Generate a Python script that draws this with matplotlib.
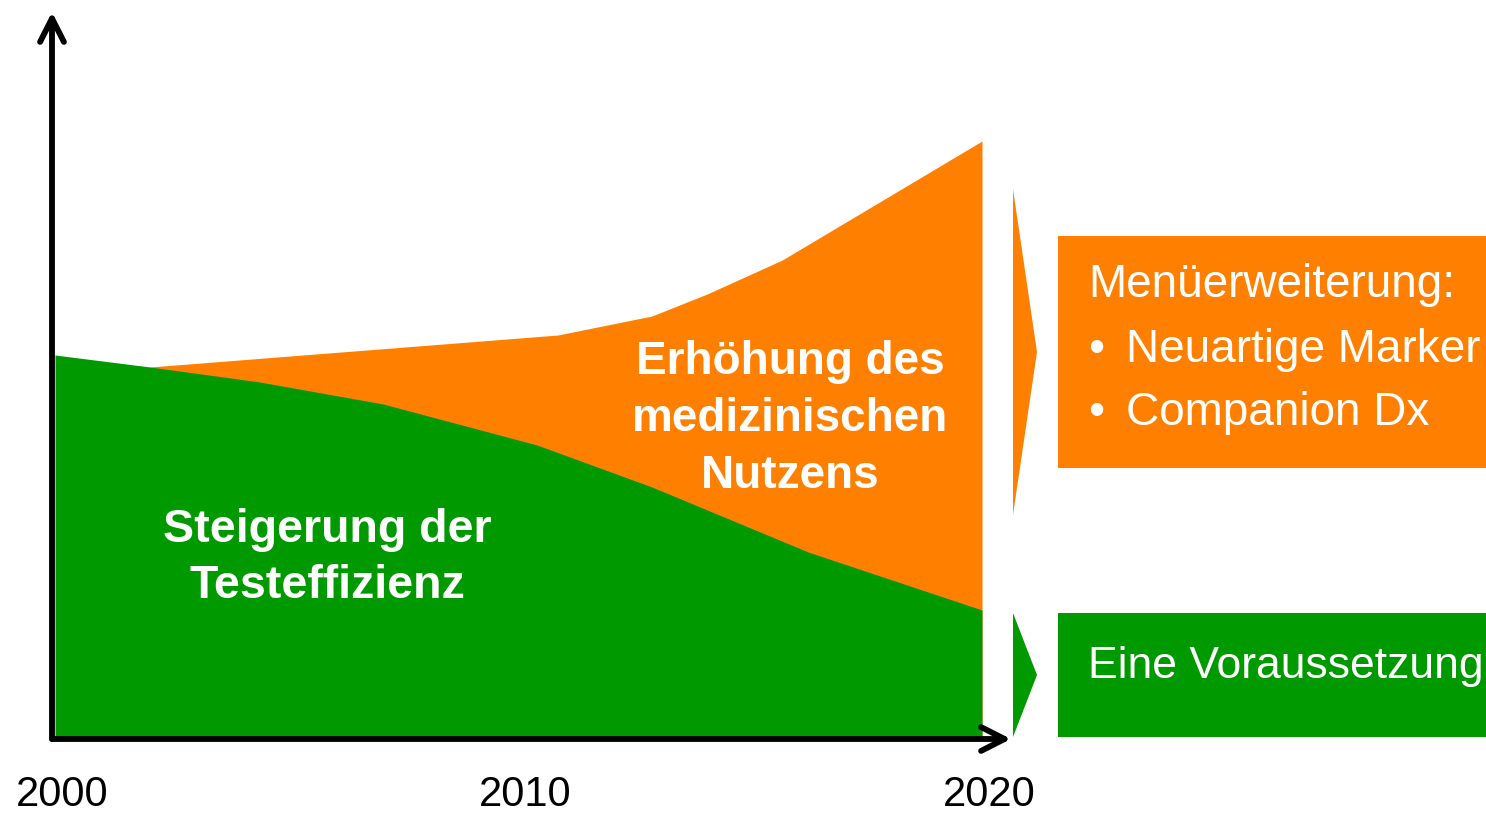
import matplotlib
matplotlib.use("Agg")
import matplotlib.pyplot as plt
from matplotlib.patches import Rectangle, Polygon
import matplotlib.transforms as mtransforms

# data (years, arbitrary units)
green_years = [2000.0, 2002.05, 2004.42, 2007.08, 2010.40, 2012.88, 2016.25, 2020.0]
green_vals = [95.5, 92.5, 88.75, 83.25, 73.0, 62.5, 46.25, 31.75]
orange_years = [2002.05, 2010.85, 2012.88, 2014.07, 2015.69, 2020.0]
orange_vals = [92.5, 100.5, 105.25, 110.75, 119.25, 149.0]
tick_years = [2000, 2010, 2020]
tick_labels = ["2000", "2010", "2020"]

GREEN = "#009900"
ORANGE = "#FF8000"
W, H = 1486, 814

plt.rcParams['font.family'] = ['Liberation Sans', 'DejaVu Sans']

fig = plt.figure(figsize=(W / 100, H / 100), dpi=100)
ax = fig.add_axes([0, 0, 1, 1])
ax.set_xlim(1998.813, 2030.874)
ax.set_ylim(-19.25, 184.25)
ax.axis('off')

# areas: orange first, green on top of it
ax.fill_between(orange_years, 0, orange_vals, color=ORANGE, lw=0, zorder=1)
ax.fill_between(green_years, 0, green_vals, color=GREEN, lw=0, zorder=2)


def fx(px):
    return px / W


def fy(py):
    return 1 - py / H


# axis arrows
arrow = dict(arrowstyle='->,head_length=0.65,head_width=0.33', lw=4.2,
             color='black', capstyle='round', joinstyle='round',
             shrinkA=0, shrinkB=0, mutation_scale=26)
ax.annotate('', xy=(fx(52), fy(12)), xytext=(fx(52), fy(739)),
            xycoords='figure fraction', textcoords='figure fraction',
            arrowprops=arrow, zorder=5)
ax.annotate('', xy=(fx(1011), fy(739)), xytext=(fx(52), fy(739)),
            xycoords='figure fraction', textcoords='figure fraction',
            arrowprops=arrow, zorder=5)

# year labels
lab_tr = mtransforms.offset_copy(ax.get_xaxis_transform(), fig=fig, x=7, y=0, units='dots')
for yr, lab in zip(tick_years, tick_labels):
    ax.text(yr, 1 - 806 / H, lab, transform=lab_tr, ha='center', va='baseline',
            fontsize=30, color='black')

# labels in the areas
for txt, py in [("Erhöhung des", 374), ("medizinischen", 431), ("Nutzens", 488)]:
    fig.text(fx(790), fy(py), txt, ha='center', va='baseline', fontsize=33,
             fontweight='bold', color='white', zorder=6)
for txt, py in [("Steigerung der", 542), ("Testeffizienz", 598)]:
    fig.text(fx(327), fy(py), txt, ha='center', va='baseline', fontsize=33.5,
             fontweight='bold', color='white', zorder=6)

# right chevrons and boxes
tri_o = Polygon([(fx(1013), fy(189)), (fx(1037), fy(352)), (fx(1013), fy(515))],
                closed=True, transform=fig.transFigure, color=ORANGE, lw=0)
tri_g = Polygon([(fx(1013), fy(613)), (fx(1037), fy(675)), (fx(1013), fy(737))],
                closed=True, transform=fig.transFigure, color=GREEN, lw=0)
box_o = Rectangle((fx(1058), fy(468)), fx(W - 1058), (468 - 236) / H,
                  transform=fig.transFigure, color=ORANGE, lw=0)
box_g = Rectangle((fx(1058), fy(737)), fx(W - 1058), (737 - 613) / H,
                  transform=fig.transFigure, color=GREEN, lw=0)
for p in (tri_o, tri_g, box_o, box_g):
    fig.patches.append(p)

fig.text(fx(1088), fy(297), "Menüerweiterung:", ha='left', va='baseline',
         fontsize=33, color='white')
fig.text(fx(1096), fy(362), "•", ha='center', va='baseline', fontsize=33, color='white')
fig.text(fx(1126), fy(362), "Neuartige Marker", ha='left', va='baseline',
         fontsize=33, color='white')
fig.text(fx(1096), fy(425), "•", ha='center', va='baseline', fontsize=33, color='white')
fig.text(fx(1126), fy(425), "Companion Dx", ha='left', va='baseline',
         fontsize=33, color='white')
fig.text(fx(1088), fy(678), "Eine Voraussetzung", ha='left', va='baseline',
         fontsize=32, color='white')

fig.savefig("out.png", dpi=100)
